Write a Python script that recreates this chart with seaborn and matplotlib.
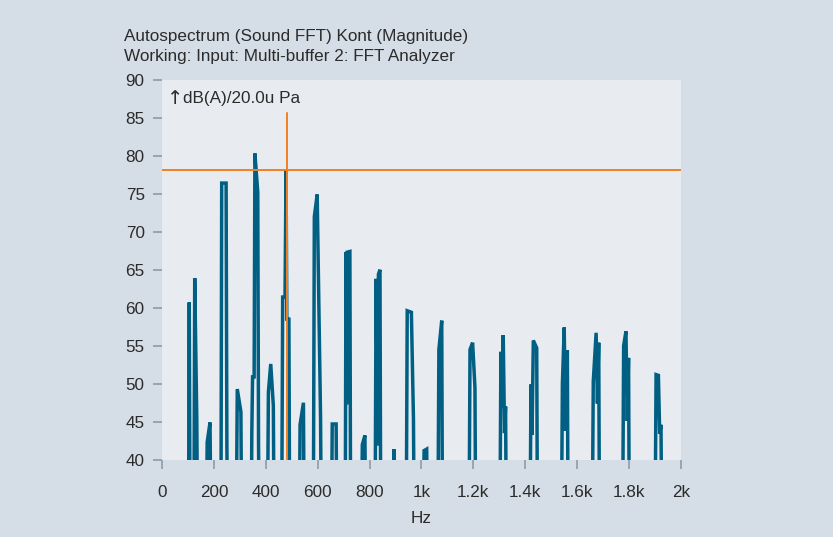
import matplotlib
matplotlib.use("Agg")
import matplotlib.pyplot as plt
import seaborn as sns
import pandas as pd
from matplotlib.ticker import FixedLocator, FixedFormatter

# ---- data ----
freq_hz = [0,
    102, 105, 108, 123, 126, 134, 137,
    171, 174, 185, 189,
    227, 230, 247, 250, 253,
    286, 290, 304, 307,
    344, 346, 349, 355, 358, 369, 372, 375,
    406, 410, 419, 429, 432,
    461, 465, 474, 478, 481, 489, 492,
    529, 532, 545, 548,
    583, 587, 598, 611, 614,
    653, 656, 671, 674,
    706, 709, 712, 713, 724, 727,
    768, 772, 782, 785,
    821, 825, 831, 834, 840, 843,
    890, 894, 898,
    941, 945, 961, 969, 972,
    1006, 1010, 1020, 1023,
    1063, 1067, 1078, 1081,
    1183, 1187, 1197, 1206, 1209,
    1302, 1306, 1310, 1315, 1320, 1324, 1327,
    1418, 1422, 1426, 1431, 1444, 1447,
    1539, 1543, 1550, 1555, 1562, 1565,
    1658, 1662, 1673, 1678, 1683, 1686,
    1775, 1779, 1788, 1793, 1798, 1801,
    1900, 1904, 1913, 1918, 1923, 1926,
    2000]
level_db = [30,
    30, 60.8, 30, 30, 64.0, 45.5, 30,
    30, 42.4, 45.0, 30,
    30, 76.5, 76.5, 41.8, 30,
    30, 49.4, 46.4, 30,
    30, 43.5, 51.0, 51.0, 80.4, 75.3, 42.0, 30,
    30, 49.0, 52.7, 47.2, 30,
    30, 61.5, 61.5, 78.2, 58.6, 58.6, 30,
    30, 44.7, 47.6, 30,
    30, 72.1, 75.0, 45.6, 30,
    30, 44.8, 44.8, 30,
    30, 67.4, 47.4, 67.4, 67.5, 30,
    30, 42.1, 43.3, 30,
    30, 63.9, 42.0, 64.5, 65.1, 30,
    30, 41.5, 30,
    30, 59.7, 59.5, 45.5, 30,
    30, 41.3, 41.5, 30,
    30, 54.6, 58.4, 30,
    30, 54.6, 55.5, 49.6, 30,
    30, 54.3, 47.0, 56.5, 43.6, 47.1, 30,
    30, 50.0, 43.4, 55.8, 54.8, 30,
    30, 50.1, 57.5, 43.9, 54.5, 30,
    30, 50.4, 56.8, 47.5, 55.5, 30,
    30, 55.1, 57.0, 45.2, 53.5, 30,
    30, 51.3, 51.2, 43.5, 44.7, 30,
    30]

x_ticks = [0, 200, 400, 600, 800, 1000, 1200, 1400, 1600, 1800, 2000]
x_tick_labels = ["0", "200", "400", "600", "800", "1k", "1.2k", "1.4k", "1.6k", "1.8k", "2k"]
y_ticks = [40, 45, 50, 55, 60, 65, 70, 75, 80, 85, 90]

cursor_freq = 480
cursor_level = 78.2
cursor_top = 85.7

title_lines = ["Autospectrum (Sound FFT) Kont (Magnitude)",
               "Working: Input: Multi-buffer 2: FFT Analyzer"]
unit_arrow = "\u2191"
unit_label = "dB(A)/20.0u Pa"
x_label = "Hz"

# ---- style ----
sns.set_theme(style="white")
plt.rcParams["font.family"] = ["Liberation Sans", "DejaVu Sans"]

fig_bg = "#d5dee6"
ax_bg = "#e8ecf0"
line_col = "#005f83"
cursor_col = "#f47f20"
text_col = "#2b2b2b"
tick_col = "#8fa2b0"
fs = 12.3

fig = plt.figure(figsize=(8.33, 5.37), dpi=100, facecolor=fig_bg)
ax = fig.add_axes([0.1945, 0.1425, 0.623, 0.7076])
ax.set_facecolor(ax_bg)

df = pd.DataFrame({"Hz": freq_hz, "dB": level_db})
sns.lineplot(data=df, x="Hz", y="dB", ax=ax, color=line_col, linewidth=2.5,
             estimator=None, sort=False, solid_joinstyle="miter",
             solid_capstyle="butt")

ax.axhline(cursor_level, color=cursor_col, linewidth=1.4, zorder=5)
ax.axvline(cursor_freq, ymin=0, ymax=(cursor_top - 40) / 50, color=cursor_col,
           linewidth=1.4, zorder=5)

ax.set_xlim(0, 2000)
ax.set_ylim(40, 90)
ax.xaxis.set_major_locator(FixedLocator(x_ticks))
ax.xaxis.set_major_formatter(FixedFormatter(x_tick_labels))
ax.set_yticks(y_ticks)
ax.tick_params(axis="both", which="major", direction="out", length=6.5, width=1.3,
               color=tick_col, labelcolor=text_col, labelsize=fs,
               bottom=True, left=True)
ax.tick_params(axis="y", pad=6)
ax.tick_params(axis="x", pad=11)
for s in ax.spines.values():
    s.set_visible(False)

ax.set_xlabel(x_label, fontsize=fs, color=text_col, labelpad=8)
ax.set_ylabel("")

ax.text(0.010, 0.977, unit_arrow, transform=ax.transAxes, ha="left", va="top",
        fontsize=14, color=text_col, family="DejaVu Sans")
ax.text(0.041, 0.973, unit_label, transform=ax.transAxes, ha="left", va="top",
        fontsize=fs, color=text_col)

fig.text(124 / 833, 1 - 36 / 537, title_lines[0], ha="left", va="center",
         fontsize=fs, color=text_col)
fig.text(124 / 833, 1 - 56 / 537, title_lines[1], ha="left", va="center",
         fontsize=fs, color=text_col)

fig.savefig("out.png", dpi=100, facecolor=fig_bg)
